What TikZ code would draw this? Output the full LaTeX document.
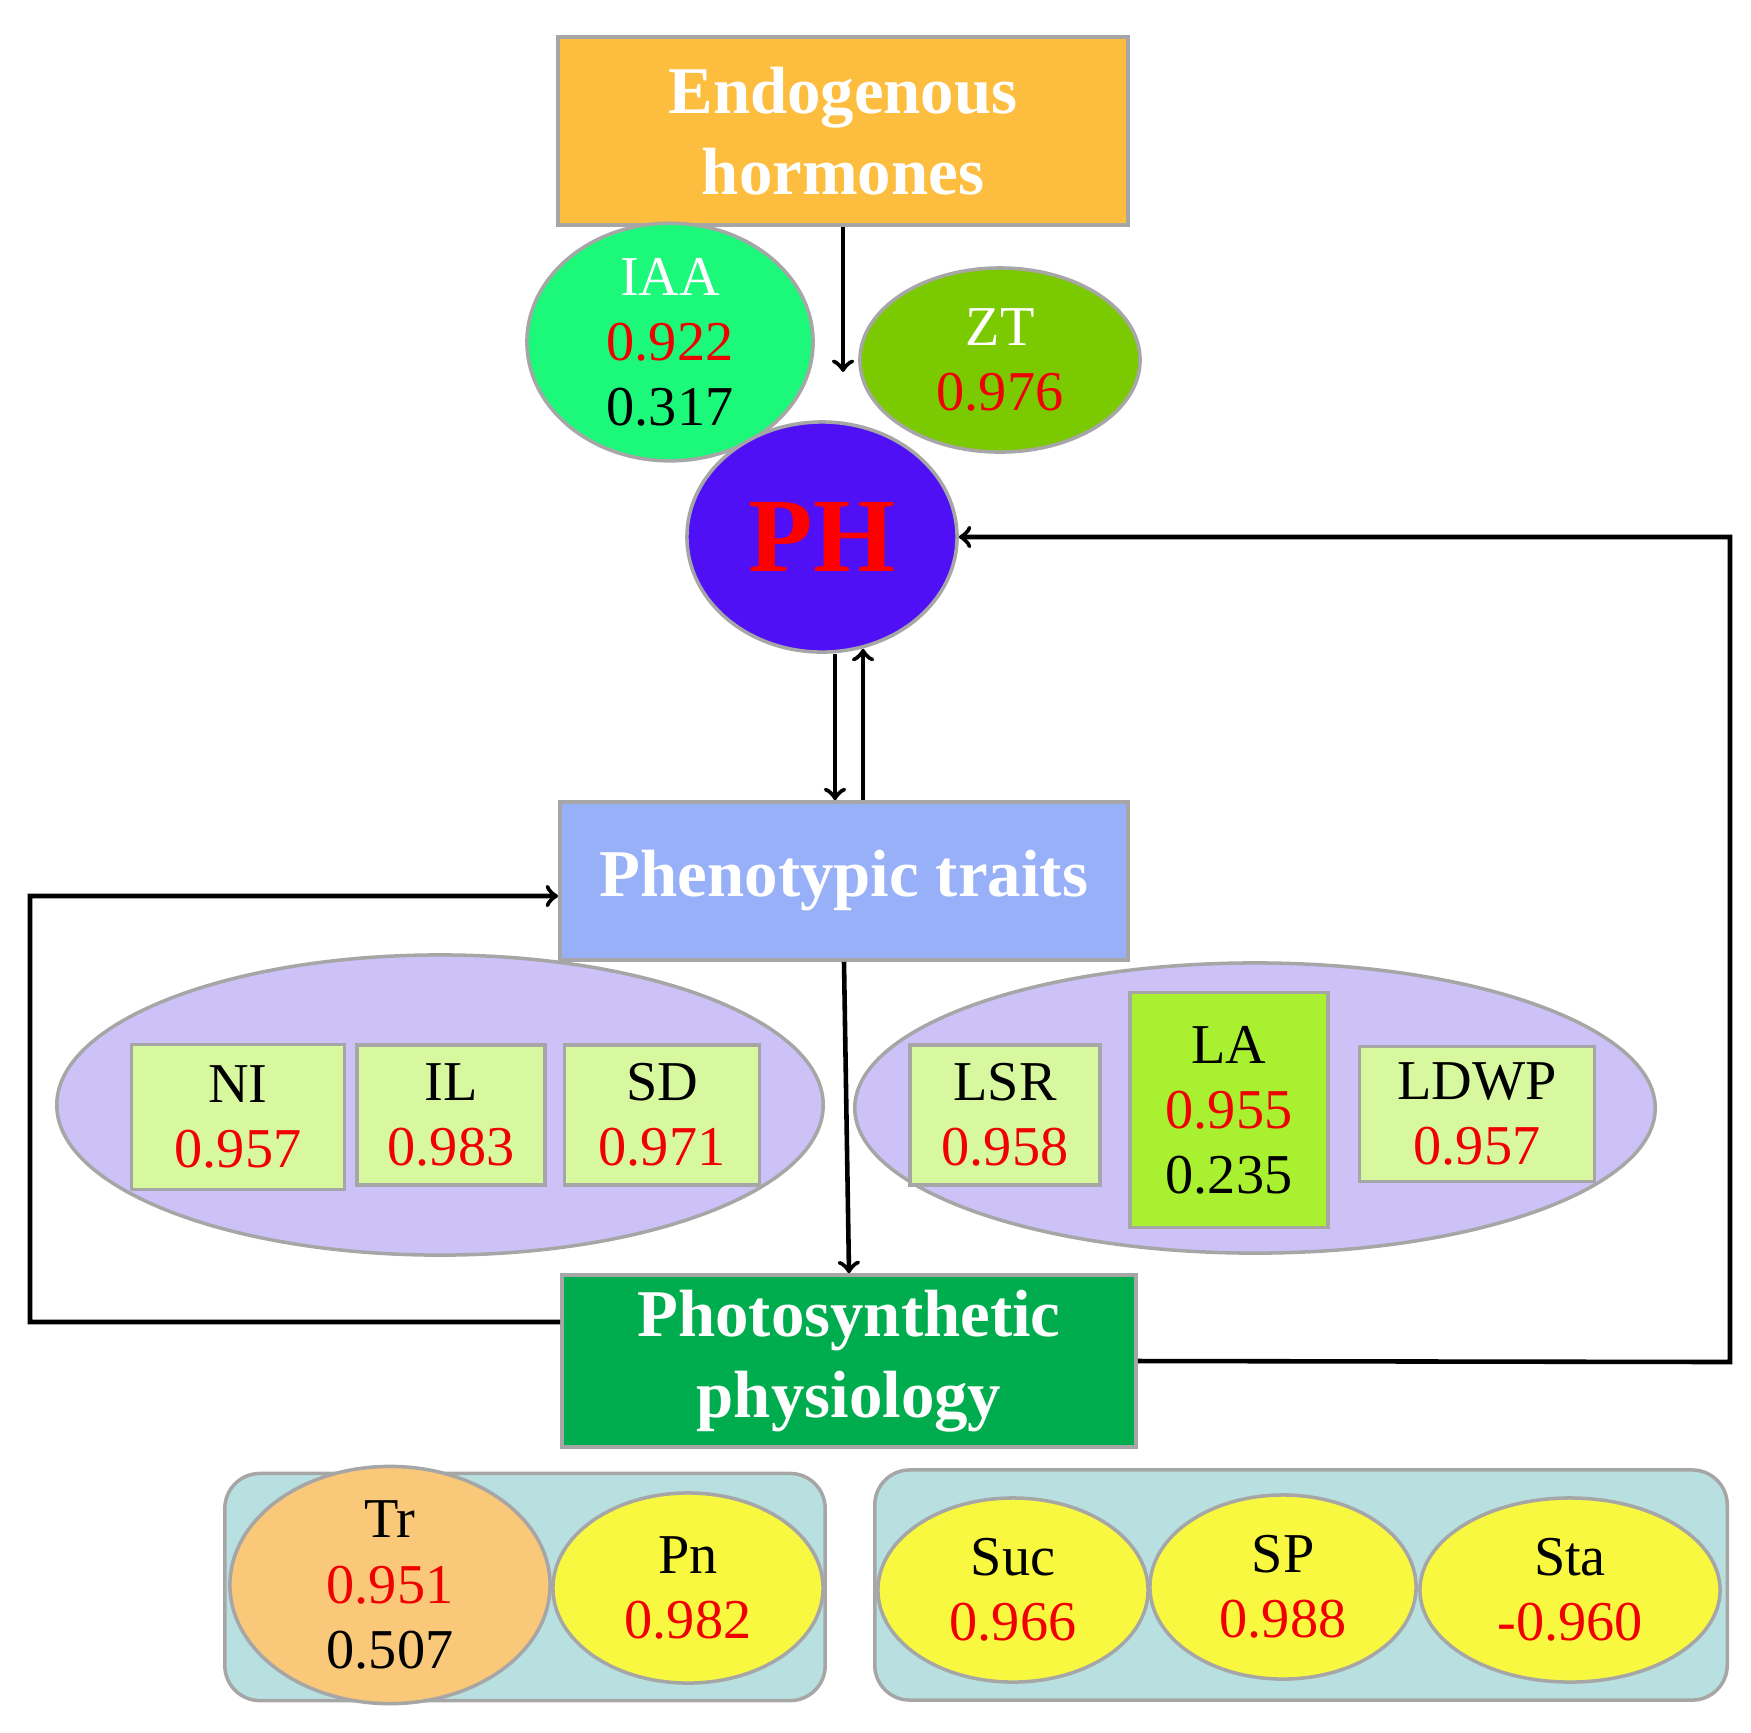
\documentclass[tikz,border=0pt]{standalone}
\usepackage{fontspec}
\setmainfont{Liberation Serif}
\usetikzlibrary{shapes.geometric}
\definecolor{endoC}{HTML}{FDBE40}
\definecolor{iaaC}{HTML}{1CF87A}
\definecolor{ztC}{HTML}{7BC900}
\definecolor{phC}{HTML}{5010F5}
\definecolor{phenC}{HTML}{97B0F8}
\definecolor{grpC}{HTML}{CDC2F8}
\definecolor{trtC}{HTML}{D8F8A0}
\definecolor{laC}{HTML}{A8F030}
\definecolor{photoC}{HTML}{00AD4E}
\definecolor{baseC}{HTML}{B9E0E0}
\definecolor{trC}{HTML}{F9C878}
\definecolor{ylwC}{HTML}{F8F840}
\definecolor{numR}{HTML}{F00000}
\tikzset{
  head/.style={draw=gray!70, line width=1pt, text=white, font=\fontsize{19}{23}\selectfont\bfseries, align=center},
  oval/.style={ellipse, draw=gray!70, line width=1pt, font=\fontsize{16}{18.5}\selectfont, align=center, inner sep=0pt},
  trait/.style={draw=gray!70, line width=1pt, font=\fontsize{16}{18.5}\selectfont, align=center, inner sep=0pt},
  arr/.style={->, line width=1.3pt}
}
\begin{document}
\begin{tikzpicture}[x=0.01cm,y=-0.01cm]
\useasboundingbox (0,0) rectangle (1751,1732);

% hormones
\node[head, fill=endoC, minimum width=5.7cm, minimum height=1.88cm] (endo) at (843,131) {Endogenous\\hormones};
\node[oval, fill=iaaC, minimum width=2.86cm, minimum height=2.14cm] (iaa) at (670,342) {\textcolor{white}{IAA}\\\textcolor{numR}{0.922}\\0.317};
\node[oval, fill=ztC, minimum width=2.8cm, minimum height=1.84cm] (zt) at (1000,360) {\textcolor{white}{ZT}\\\textcolor{numR}{0.976}};
\node[ellipse, draw=gray!70, line width=1pt, fill=phC, minimum width=2.7cm, minimum height=2.3cm, text=red, font=\fontsize{30}{32}\selectfont\bfseries] (ph) at (822,537) {PH};
\coordinate (endoEnd) at (843,372);

% phenotypic traits
\node[head, fill=phenC, minimum width=5.68cm, minimum height=1.58cm] (phen) at (844,881) {Phenotypic traits};
\node[ellipse, draw=gray!70, line width=1pt, fill=grpC, minimum width=7.66cm, minimum height=3cm] (grpL) at (440,1105) {};
\node[ellipse, draw=gray!70, line width=1pt, fill=grpC, minimum width=8cm, minimum height=2.9cm] (grpR) at (1255,1108) {};
\node[trait, fill=trtC, minimum width=2.13cm, minimum height=1.45cm] (ni) at (238,1117) {NI\\\textcolor{numR}{0.957}};
\node[trait, fill=trtC, minimum width=1.88cm, minimum height=1.4cm] (il) at (451,1115) {IL\\\textcolor{numR}{0.983}};
\node[trait, fill=trtC, minimum width=1.95cm, minimum height=1.4cm] (sd) at (662,1115) {SD\\\textcolor{numR}{0.971}};
\node[trait, fill=trtC, minimum width=1.9cm, minimum height=1.4cm] (lsr) at (1005,1115) {LSR\\\textcolor{numR}{0.958}};
\node[trait, fill=laC, minimum width=1.98cm, minimum height=2.35cm] (la) at (1229,1110) {LA\\\textcolor{numR}{0.955}\\0.235};
\node[trait, fill=trtC, minimum width=2.35cm, minimum height=1.35cm] (ldwp) at (1477,1114) {LDWP\\\textcolor{numR}{0.957}};

% photosynthetic physiology
\node[head, fill=photoC, minimum width=5.74cm, minimum height=1.72cm] (photo) at (849,1361) {Photosynthetic\\physiology};
\node[draw=gray!70, line width=1pt, fill=baseC, rounded corners=0.35cm, minimum width=6cm, minimum height=2.27cm] (baseL) at (525,1587) {};
\node[draw=gray!70, line width=1pt, fill=baseC, rounded corners=0.35cm, minimum width=8.52cm, minimum height=2.3cm] (baseR) at (1301,1585) {};
\node[oval, fill=trC, minimum width=3.2cm, minimum height=2.3cm] (tr) at (390,1585) {Tr\\\textcolor{numR}{0.951}\\0.507};
\node[oval, fill=ylwC, minimum width=2.7cm, minimum height=1.9cm] (pn) at (688,1588) {Pn\\\textcolor{numR}{0.982}};
\node[oval, fill=ylwC, minimum width=2.7cm, minimum height=1.84cm] (suc) at (1013,1590) {Suc\\\textcolor{numR}{0.966}};
\node[oval, fill=ylwC, minimum width=2.66cm, minimum height=1.84cm] (sp) at (1283,1587) {SP\\\textcolor{numR}{0.988}};
\node[oval, fill=ylwC, minimum width=3cm, minimum height=1.84cm] (sta) at (1570,1590) {Sta\\\textcolor{numR}{-0.960}};

% connectors
\draw[arr] (endo.south) -- (endoEnd);
\draw[arr] ([xshift=0.13cm]ph.south) -- ([xshift=0.13cm]ph.south |- phen.north);
\draw[arr] ([xshift=0.41cm]ph.south |- phen.north) -- ([xshift=0.41cm,yshift=0.05cm]ph.south);
\draw[arr] (phen.south) -- (photo.north);
\draw[arr] ([yshift=0.39cm]photo.west) -- (30,1322) |- ([yshift=-0.15cm]phen.west);
\draw[arr] (photo.east) -- (1730,1362) |- (ph.east);
\end{tikzpicture}
\end{document}
